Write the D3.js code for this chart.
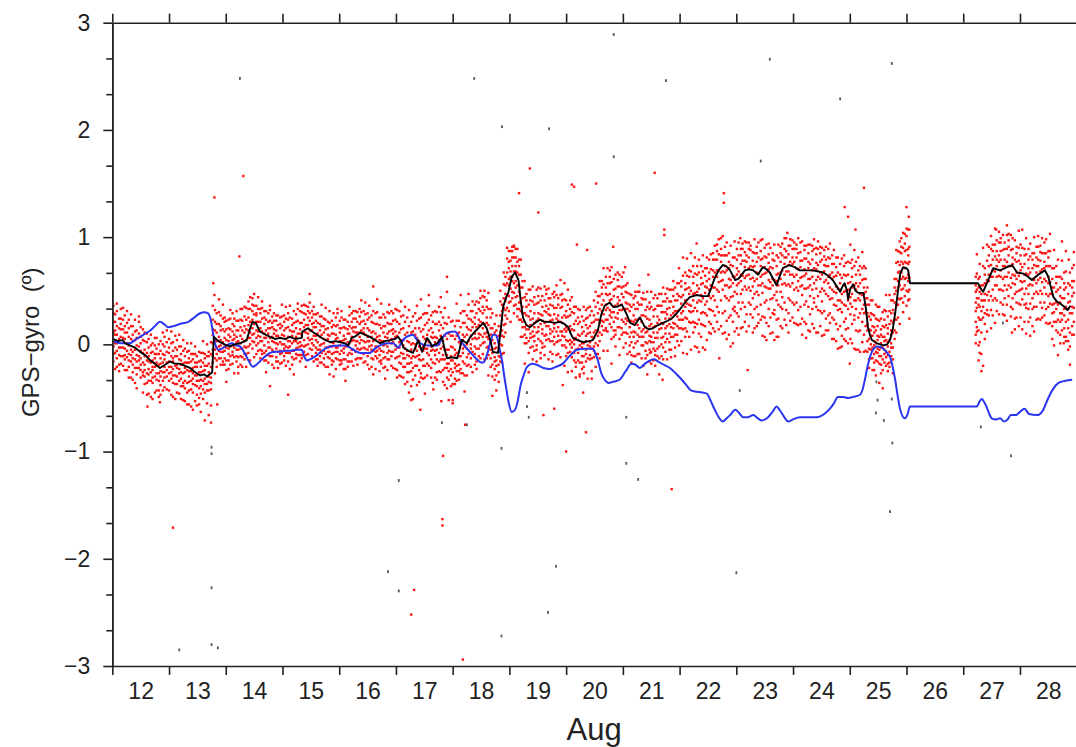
<!DOCTYPE html>
<html>
<head>
<meta charset="utf-8">
<script src="https://cdn.jsdelivr.net/npm/d3@7"></script>
<style>
  html, body { margin: 0; padding: 0; background: #fff; }
  svg { display: block; font-family: "Liberation Sans", Arial, sans-serif; }
</style>
</head>
<body>
<svg id="chart" width="1076" height="747"></svg>
<script>
// ---- axis values ----
const dayLabels = [12, 13, 14, 15, 16, 17, 18, 19, 20, 21, 22, 23, 24, 25, 26, 27, 28];
const dayBounds = [12, 13, 14, 15, 16, 17, 18, 19, 20, 21, 22, 23, 24, 25, 26, 27, 28, 29];
const yMajor = [-3, -2, -1, 0, 1, 2, 3];

// ---- GPS minus gyro heading samples: [day of August, values in hundredths of a degree...] ----
const cloudAug12 = [
  [12.02, 36, 21, 11, 4, -2, -9, -16, 29], [12.08, 31, 17, 9, 1, -6, -13, 38, -21],
  [12.15, 24, 14, 7, -3, -11, 19, -18, 33], [12.22, 11, 5, -4, -10, 17, -14, -24, 27],
  [12.29, 15, 7, -1, -9, -15, -21, 23, -31], [12.36, 9, 3, -7, -13, -19, -26, 17, -33],
  [12.43, 6, -1, -10, -16, -22, 13, -28, -41], [12.50, 7, 1, -6, -13, -19, -24, -31, 16],
  [12.57, 3, -5, -11, -19, -24, -30, 11, -37], [12.64, -3, -11, -16, -23, -28, 5, -34, -46],
  [12.71, -7, -15, -21, -24, -31, 1, -36, -51], [12.78, -4, -9, -17, -20, -27, 6, -33, -43],
  [12.85, -6, -13, -18, -25, -30, 3, -38, -47], [12.92, -2, -10, -14, -21, -26, 7, -31, -40],
  [12.05, 9, 1, 13, -8, 21, -23, 28], [12.12, -3, 5, -10, 15, -19, 24, -25],
  [12.19, 6, -3, 14, -11, 23, -20, 34], [12.26, 1, 11, -6, 20, -12, 31, -24],
  [12.33, -5, 5, -10, 17, -16, 28, -31], [12.40, -5, 4, -14, 12, -22, 23, -36],
  [12.47, -2, -11, 10, -15, 21, -22, 26], [12.54, -8, -17, 4, -26, 14, -29, -45],
  [12.61, -15, -8, -27, 2, -36, 10, -47], [12.68, -8, -17, -1, -26, 9, -34, -49],
  [12.75, -13, -21, -9, -30, -1, -45, 6], [12.82, -27, -19, -34, -9, -43, 0, -49],
  [12.89, -17, -26, -9, -34, 0, -43, 11], [12.96, -17, -7, -24, 2, -30, 13, -42]
];
const cloudAug13 = [
  [13.00, -3, -8, -16, -21, -27, 5, -34, -43], [13.07, -6, -13, -16, -23, -29, 2, -36, -49],
  [13.14, -5, -11, -19, -22, -30, 4, -37, -45], [13.21, -9, -15, -19, -26, -32, -2, -39, -51],
  [13.28, -11, -17, -22, -26, -34, -4, -41, -53], [13.35, -13, -17, -25, -30, -35, -6, -43, -56],
  [13.42, -14, -22, -27, -32, -37, -9, -45, -61], [13.49, -17, -21, -29, -34, -39, -11, -47, -57],
  [13.56, -15, -21, -26, -33, -39, -8, -46, -63], [13.63, -13, -20, -24, -32, -37, -45, -9, -71],
  [13.70, -11, -18, -26, -30, -35, -43, -7, -66], [13.77, 14, 9, 1, -5, -11, 23, -17, 36],
  [13.84, 11, 3, -3, -9, 19, -15, 29, -21], [13.91, 13, 4, -1, -7, 17, -13, 27, -19],
  [13.04, -21, -11, -26, 1, -32, 12, -47], [13.11, -20, -11, -29, -3, -37, 8, -51],
  [13.18, -14, -23, -2, -27, 9, -34, -46], [13.25, -18, -27, -6, -36, 4, -39, -52],
  [13.32, -24, -17, -36, -7, -45, 1, -56], [13.39, -16, -25, -9, -34, 1, -42, -58],
  [13.46, -21, -29, -17, -38, -9, -53, -2], [13.53, -34, -26, -41, -16, -50, -7, -56],
  [13.60, -25, -34, -17, -42, -8, -51, 3], [13.67, -30, -20, -37, -11, -43, 0, -55],
  [13.74, -31, -21, -36, -9, -42, 2, -57], [13.81, 4, 13, -5, 21, -13, 32, -27],
  [13.88, 7, -2, 19, -6, 30, -13, 42], [13.95, 2, -7, 14, -16, 24, -19, 37]
];
const cloudAug14 = [
  [13.98, 12, 6, -2, -6, -13, 21, -19, 25], [14.05, 9, 3, -4, -9, 15, -15, 23, -23],
  [14.12, 12, 4, -1, -7, -10, 19, -18, 29], [14.19, 13, 7, 2, -5, -11, 22, -16, 31],
  [14.26, 16, 8, 1, -4, 23, -11, 33, -19], [14.33, 17, 11, 3, -2, 26, -9, 35, -14],
  [14.40, 25, 18, 13, 6, 33, -2, 40, -8], [14.47, 31, 23, 15, 9, 37, 3, 43, -4],
  [14.54, 29, 21, 13, 6, 36, -1, 27, -9], [14.61, 21, 15, 7, 3, 29, -5, 33, -13],
  [14.68, 19, 10, 6, -1, 25, -8, 31, -15], [14.75, 15, 10, 2, -3, 21, -10, 29, -17],
  [14.82, 16, 7, 3, -5, 20, -11, 26, -19], [14.89, 13, 8, 1, -4, 22, -12, 27, -16],
  [14.96, 15, 6, 2, -6, 19, -9, 25, -18],
  [14.01, -3, 4, -15, 14, -24, 22, -35], [14.08, 7, -2, 14, -11, 24, -19, 32],
  [14.15, 5, -3, 9, -12, 17, -27, 24], [14.22, -5, 3, -12, 13, -21, 22, -27],
  [14.29, 5, -4, 13, -12, 22, -21, 33], [14.36, 4, 14, -3, 23, -9, 34, -21],
  [14.43, 11, 21, 6, 33, 0, 44, -15], [14.50, 19, 28, 10, 36, 2, 47, -12],
  [14.57, 21, 12, 33, 8, 44, 1, -6], [14.64, 12, 3, 24, -6, 34, -9, 40],
  [14.71, 6, 13, -6, 23, -15, 31, -26], [14.78, 15, 6, 22, -3, 32, -11, 36],
  [14.85, 10, 2, 14, -7, 22, -22, 29], [14.92, 0, 8, -7, 18, -16, 27, -22],
  [14.99, 9, 0, 17, -8, 26, -17, 37]
];
const cloudAug15 = [
  [15.03, 13, 8, 0, -4, 21, -11, 27, -15], [15.10, 16, 7, 3, -3, 23, -8, 29, -16],
  [15.17, 12, 8, 1, -6, 18, -12, 24, -19], [15.24, 15, 7, 3, -4, 21, -9, 28, -13],
  [15.31, 14, 10, 2, -2, 20, -10, 31, -16], [15.38, 23, 16, 12, 4, 29, -2, 37, -7],
  [15.45, 25, 18, 10, 6, 31, 0, 35, -9], [15.52, 19, 13, 5, 1, 25, -5, 31, -11],
  [15.59, 16, 8, 4, -3, 22, -8, 28, -14], [15.66, 13, 7, -1, -5, 19, -11, 26, -17],
  [15.73, 11, 5, 1, -6, 17, -13, 24, -19], [15.80, 9, 5, -3, -7, 15, -12, 21, -21],
  [15.87, 10, 2, -2, -9, 16, -15, 22, -19], [15.94, 9, 5, -3, -7, 17, -13, 25, -23],
  [15.06, 5, 15, -2, 24, -8, 35, -20], [15.13, 3, 13, -2, 25, -8, 36, -23],
  [15.20, 3, 12, -6, 20, -14, 31, -28], [15.27, 10, 1, 22, -3, 33, -10, 38],
  [15.34, 8, -1, 20, -10, 30, -13, 36], [15.41, 11, 18, -1, 28, -10, 36, -21],
  [15.48, 22, 13, 29, 4, 39, -4, 47], [15.55, 16, 8, 20, -1, 28, -16, 35],
  [15.62, 2, 10, -5, 20, -14, 29, -20], [15.69, 9, 0, 17, -8, 26, -17, 37],
  [15.76, 4, 14, -3, 23, -9, 34, -21], [15.83, -2, 8, -7, 20, -13, 31, -28],
  [15.90, 1, 10, -8, 18, -16, 29, -30], [15.97, 6, -3, 18, -7, 29, -14, 33]
];
const cloudAug16 = [
  [16.01, 11, 3, -1, -9, 15, -15, 22, -19], [16.08, 8, 4, -4, -8, 16, -14, 23, -23],
  [16.15, 10, 2, -2, -10, 14, -16, 21, -21], [16.22, 15, 7, 3, -5, 21, -9, 29, -16],
  [16.29, 16, 11, 3, -1, 24, -7, 31, -14], [16.36, 19, 11, 7, 1, 26, -5, 33, -13],
  [16.43, 15, 11, 3, -3, 22, -9, 31, -17], [16.50, 15, 7, 3, -5, 23, -11, 29, -19],
  [16.57, 11, 7, -1, -5, 21, -13, 27, -21], [16.64, 10, 5, -2, -7, 19, -11, 29, -23],
  [16.71, 8, 4, -4, -10, 18, -16, 25, -25], [16.78, 11, 3, -1, -7, 17, -13, 28, -22],
  [16.85, 10, 6, -2, -8, 20, -14, 30, -24], [16.92, 13, 5, 1, -7, 19, -11, 31, -20],
  [16.04, 3, -6, 15, -15, 25, -18, 31], [16.11, -2, 5, -14, 15, -23, 23, -34],
  [16.18, 10, 1, 17, -8, 27, -16, 35], [16.25, 12, 4, 16, -5, 24, -20, 31],
  [16.32, 3, 11, -4, 21, -13, 30, -19], [16.39, 13, 4, 21, -4, 30, -13, 41],
  [16.46, 9, 19, 2, 28, -4, 39, -16], [16.53, 3, 13, -2, 25, -8, 36, -23],
  [16.60, 3, 12, -6, 20, -14, 31, -28], [16.67, 7, -2, 19, -6, 30, -13, 42],
  [16.74, 3, -6, 15, -15, 25, -18, 38], [16.81, 0, 7, -12, 17, -21, 25, -32],
  [16.88, 12, 3, 19, -6, 29, -14, 37], [16.95, 10, 2, 14, -7, 22, -22, 29]
];
const cloudAug17 = [
  [16.99, 12, 7, -1, -5, 23, -13, 33, -23], [17.06, 11, 2, -3, -11, 19, -17, 31, -29],
  [17.13, 4, -1, -9, -13, 15, -21, 27, -31], [17.20, 3, -6, -10, -18, 11, -26, 25, -35],
  [17.27, 0, -5, -13, -17, 11, -25, 21, -39], [17.34, 9, 0, -4, -12, 15, -20, 29, -29],
  [17.41, 3, -2, -10, -14, 15, -24, 24, -35], [17.48, 7, -2, -6, -14, 14, -20, 28, -32],
  [17.55, 9, 4, -4, -8, 20, -18, 29, -29], [17.62, 7, -2, -6, -14, 15, -22, 27, -31],
  [17.69, 7, 2, -6, -10, 19, -18, 31, -31], [17.76, 13, 4, 0, -8, 21, -16, 35, -25],
  [17.83, 3, -2, -10, -14, 15, -24, 25, -35], [17.90, -5, -10, -18, -22, 5, -31, 19, -41],
  [17.97, -2, -11, -15, -23, 8, -29, 21, -39],
  [17.02, -3, 8, -12, 21, -24, 32, -31], [17.09, 4, -8, 14, -18, 26, -30, 40],
  [17.16, -4, 9, -13, 21, -21, 35, -37], [17.23, -11, 2, -18, 17, -26, 32, -45],
  [17.30, -11, 1, -22, 12, -33, 26, -51], [17.37, 6, -6, 22, -11, 36, -20, -38],
  [17.44, -4, -15, 12, -27, 25, -31, 42], [17.51, -4, 5, -20, 18, -31, 29, -46],
  [17.58, 13, 2, 23, -10, 36, -20, 46], [17.65, 6, -5, 11, -17, 21, -36, 30],
  [17.72, -5, 6, -14, 19, -26, 30, -33], [17.79, 8, -4, 18, -14, 30, -26, 44],
  [17.86, -5, 8, -14, 20, -22, 34, -38], [17.93, -18, -5, -25, 10, -33, 25, -52]
];
const cloudAug18 = [
  [18.04, -5, -10, -18, -22, 5, -32, 17, -37], [18.11, 2, -7, -11, -19, 11, -25, 22, -33],
  [18.18, 9, 4, -4, -8, 20, -16, 31, -27], [18.25, 9, 0, -4, -12, 16, -20, 27, -29],
  [18.32, 13, 8, 0, -4, 23, -13, 31, -21], [18.39, 19, 10, 6, -2, 25, -9, 37, -19],
  [18.46, 23, 18, 10, 6, 33, -4, 39, -11], [18.53, 29, 20, 15, 7, 35, 1, 45, -9],
  [18.60, 25, 20, 11, 7, 35, -3, 41, -13], [18.67, 15, 9, 2, -5, 25, -13, 33, -21],
  [18.74, 1, -4, -12, -16, 11, -23, 19, -33], [18.81, 3, -7, -11, -19, 8, -26, 17, -35],
  [18.87, 23, 13, 8, -1, 31, -9, 37, -17], [18.93, 47, 41, 32, 27, 55, 19, 63, 11],
  [18.00, -15, -3, -26, 8, -37, 22, -55], [18.07, -8, -20, 8, -25, 22, -34, 38],
  [18.14, 0, -11, 16, -23, 29, -27, 46], [18.21, -2, 7, -18, 20, -29, 31, -44],
  [18.28, 14, 3, 24, -9, 37, -19, 47], [18.35, 16, 5, 21, -7, 31, -26, 40],
  [18.42, 5, 16, -4, 29, -16, 40, -23], [18.49, 21, 9, 31, -1, 43, -13, 50],
  [18.56, 19, 32, 10, 44, 2, 50, -14], [18.63, 5, 18, -2, 33, -10, 48, -29],
  [18.70, -8, 4, -19, 15, -30, 29, -48], [18.77, -3, -15, 13, -20, 27, -29, -43],
  [18.84, 11, 0, 27, -12, 40, -16, 50], [18.90, 34, 43, 18, 56, 7, 67, -8],
  [18.96, 57, 46, 67, 34, 80, 24, 90]
];
const cloudAug19 = [
  [18.99, 61, 55, 45, 39, 71, 77, 31, 87], [19.05, 73, 63, 59, 49, 81, 87, 43, 91],
  [19.11, 73, 68, 59, 53, 81, 89, 44, 37], [19.17, 65, 55, 49, 39, 73, 79, 33, 23],
  [19.23, 35, 29, 21, 16, 43, 53, 7, 59], [19.30, 27, 18, 14, 6, 35, 41, 1, 47],
  [19.37, 23, 18, 10, 6, 31, 41, -3, 51], [19.44, 29, 20, 16, 8, 37, 44, 3, -6],
  [19.51, 29, 24, 16, 12, 39, 45, 5, 53], [19.58, 27, 22, 14, 10, 35, 45, 1, -3],
  [19.65, 30, 21, 17, 9, 36, 47, 4, 51], [19.72, 27, 22, 14, 10, 37, 43, 3, -7],
  [19.79, 28, 19, 15, 7, 34, 44, 0, 49], [19.86, 27, 22, 16, 8, 37, 43, 3, -9],
  [19.93, 25, 20, 12, 8, 35, 41, -1, 47],
  [19.02, 63, 52, 68, 40, 78, 21, 87], [19.08, 57, 68, 48, 81, 36, 92, 29],
  [19.14, 67, 55, 77, 45, 89, 33, 26], [19.20, 40, 53, 31, 65, 23, 79, 7],
  [19.27, 16, 29, 9, 44, 1, 59, -18], [19.34, 14, 26, 3, 37, -8, 51, -26],
  [19.41, 24, 12, 40, 7, 54, -2, -14], [19.48, 22, 11, 38, -1, 51, -5, -16],
  [19.55, 19, 28, 3, 41, -8, 52, -13], [19.62, 31, 20, 41, 8, 54, -2, -10],
  [19.69, 28, 17, 33, 5, 43, -14, 52], [19.76, 12, 23, 3, 36, -9, 47, -16],
  [19.83, 24, 12, 34, 2, 46, -10, 55], [19.90, 21, 34, 12, 46, 4, 60, -12],
  [19.97, 14, 27, 7, 42, -1, 57, -20]
];
const cloudAug20 = [
  [20.00, 25, 16, 12, 4, 31, 41, -3, -11], [20.07, 17, 12, 4, 0, 27, 33, -7, 41],
  [20.14, 13, 4, 0, -8, 19, 29, -15, 35], [20.21, 9, 4, -4, -8, 19, 25, -15, 33],
  [20.28, 10, 1, -3, -11, 16, 26, -17, -23], [20.35, 8, 3, -5, -9, 18, 24, -16, 32],
  [20.42, 11, 2, -2, -10, 17, 27, -14, 35], [20.49, 11, 6, -2, -6, 21, 27, -12, 41],
  [20.56, 23, 13, 8, -1, 29, 39, -9, 45], [20.63, 37, 31, 22, 17, 47, 53, 9, 59],
  [20.70, 47, 37, 32, 23, 53, 63, 15, 13], [20.77, 47, 41, 32, 27, 57, 63, 19, 69],
  [20.84, 45, 35, 30, 21, 51, 61, 13, 7], [20.91, 44, 38, 29, 24, 54, 60, 16, 67],
  [20.98, 47, 37, 32, 23, 53, 63, 15, 9],
  [20.03, 14, 26, 3, 37, -8, 51, -26], [20.10, 14, 2, 30, -3, 44, -12, -25],
  [20.17, 6, -5, 22, -17, 35, -21, -31], [20.24, -1, 8, -17, 21, -28, 32, -30],
  [20.31, 12, 1, 22, -11, 35, -21, -27], [20.38, 10, -1, 15, -13, 25, -32, 34],
  [20.45, -4, 7, -13, 20, -25, 31, -32], [20.52, 13, 1, 23, -9, 35, -21, 49],
  [20.59, 20, 33, 11, 45, 3, 59, -13], [20.66, 28, 41, 21, 56, 13, 71, -6],
  [20.73, 34, 46, 23, 57, 12, 71, -6], [20.80, 42, 30, 58, 25, 72, 16, 5],
  [20.87, 36, 25, 52, 13, 65, 9, -2], [20.94, 32, 41, 16, 54, 5, 65, -10]
];
const cloudAug21 = [
  [21.05, 39, 33, 24, 19, 49, 55, 11, 1], [21.12, 31, 21, 16, 7, 37, 47, -1, -7],
  [21.19, 27, 21, 12, 7, 37, 43, -3, -11], [21.26, 33, 23, 18, 9, 39, 49, 3, -9],
  [21.33, 27, 21, 12, 7, 37, 43, -1, -13], [21.40, 26, 16, 11, 2, 32, 42, -6, -13],
  [21.47, 23, 17, 8, 3, 33, 39, -5, -16], [21.54, 26, 16, 11, 2, 32, 43, -4, -15],
  [21.61, 26, 20, 11, 6, 36, 43, -4, -11], [21.68, 30, 20, 15, 6, 36, 47, 0, -11],
  [21.75, 30, 24, 15, 10, 40, 47, 2, -7], [21.82, 34, 24, 19, 10, 40, 51, 2, -5],
  [21.89, 35, 29, 20, 15, 45, 51, 7, 59], [21.96, 41, 31, 26, 17, 47, 57, 9, 3],
  [21.01, 44, 33, 54, 21, 67, 11, -3], [21.08, 33, 22, 38, 10, 48, -9, 57],
  [21.15, 11, 22, 2, 35, -10, 46, -17], [21.22, 23, 11, 33, 1, 45, -11, 49],
  [21.29, 24, 37, 15, 49, 7, 55, -9], [21.36, 14, 27, 7, 42, -1, 48, -20],
  [21.43, 12, 24, 1, 35, -10, 49, -28], [21.50, 19, 7, 35, 2, 49, -7, -18],
  [21.57, 17, 6, 33, -6, 46, -10, -20], [21.64, 14, 23, -2, 36, -13, 47, -28],
  [21.71, 30, 19, 40, 7, 53, -3, -14], [21.78, 28, 17, 33, 5, 43, -14, 52],
  [21.85, 16, 27, 7, 40, -5, 51, -12], [21.92, 31, 19, 41, 9, 53, -3, -11],
  [21.99, 32, 45, 23, 57, 15, 71, -1]
];
const cloudAug22 = [
  [22.03, 44, 38, 29, 23, 54, 59, 15, 3], [22.10, 51, 41, 35, 25, 57, 67, 15, 7],
  [22.17, 53, 47, 37, 31, 63, 69, 21, 7], [22.24, 57, 47, 41, 31, 63, 73, 21, 11],
  [22.31, 55, 49, 39, 31, 65, 73, 19, -3], [22.38, 56, 46, 40, 29, 62, 73, 19, 7],
  [22.45, 54, 48, 37, 29, 64, 71, 17, -5], [22.52, 61, 51, 45, 33, 67, 79, 21, 11],
  [22.59, 69, 63, 53, 45, 79, 85, 31, 15], [22.66, 79, 69, 63, 51, 87, 93, 35, 21],
  [22.73, 83, 77, 67, 59, 89, 99, 41, 17], [22.80, 83, 73, 67, 55, 91, 45, 31, 11],
  [22.87, 77, 71, 61, 53, 85, 41, 25, 9], [22.94, 73, 63, 57, 45, 81, 33, 21, 1],
  [22.06, 31, 46, 23, 64, 14, 81, -8], [22.13, 38, 52, 24, 64, 12, 80, -9],
  [22.20, 50, 36, 68, 30, 85, 20, -5], [22.27, 48, 34, 66, 20, 81, 16, -2],
  [22.34, 41, 52, 23, 67, 10, 79, -7], [22.41, 57, 43, 68, 30, 83, 18, -3],
  [22.48, 53, 40, 59, 27, 71, 4, 81], [22.55, 43, 55, 32, 70, 19, 84, 10],
  [22.62, 67, 53, 79, 41, 92, 27, 12], [22.69, 69, 84, 58, 98, 49, 30, 14],
  [22.76, 68, 83, 60, 101, 51, 29, 10], [22.83, 69, 83, 55, 95, 43, 22, 5],
  [22.90, 74, 60, 92, 54, 27, 44, -2], [22.97, 63, 49, 81, 35, 96, 31, 12]
];
const cloudAug23 = [
  [23.01, 71, 65, 55, 47, 79, 89, 29, 15], [23.08, 75, 65, 59, 47, 83, 89, 33, 15],
  [23.15, 78, 72, 62, 54, 86, 96, 35, 21], [23.22, 81, 71, 65, 53, 89, 95, 39, 17],
  [23.29, 78, 72, 62, 54, 86, 43, 25, 11], [23.36, 77, 67, 61, 49, 85, 91, 35, 17],
  [23.43, 79, 73, 63, 55, 87, 97, 37, 23], [23.50, 82, 72, 66, 54, 90, 39, 25, 7],
  [23.57, 76, 70, 60, 52, 84, 94, 33, 17], [23.64, 71, 61, 55, 43, 79, 85, 29, 11],
  [23.71, 65, 59, 49, 41, 73, 83, 23, 7], [23.78, 77, 67, 61, 49, 85, 91, 35, 17],
  [23.85, 81, 75, 65, 57, 89, 99, 39, 23], [23.92, 84, 74, 68, 56, 92, 43, 29, 11],
  [23.04, 57, 68, 39, 83, 26, 95, 9], [23.11, 78, 64, 89, 51, 94, 39, 16],
  [23.18, 77, 64, 83, 51, 95, 28, 12], [23.25, 61, 73, 50, 88, 37, 92, 28],
  [23.32, 73, 59, 85, 47, 98, 33, 15], [23.39, 66, 81, 55, 95, 46, 20, 28],
  [23.46, 65, 80, 57, 98, 48, 26, 8], [23.53, 67, 81, 53, 93, 41, 20, 4],
  [23.60, 72, 58, 90, 52, 25, 42, 10], [23.67, 60, 46, 78, 32, 93, 28, 4],
  [23.74, 55, 66, 37, 81, 24, 93, 7], [23.81, 83, 69, 94, 56, 33, 44, 15],
  [23.88, 81, 68, 87, 55, 99, 32, 18], [23.95, 65, 77, 54, 92, 41, 98, 22]
];
const cloudAug24 = [
  [23.99, 81, 75, 65, 57, 89, 97, 39, 25], [24.06, 81, 71, 65, 53, 89, 93, 39, 19],
  [24.13, 78, 72, 62, 54, 86, 95, 35, 19], [24.20, 80, 70, 64, 52, 88, 92, 37, 21],
  [24.27, 77, 71, 61, 53, 85, 93, 35, 13], [24.34, 79, 69, 63, 51, 87, 92, 33, 19],
  [24.41, 76, 70, 60, 52, 84, 90, 35, 11], [24.48, 77, 67, 61, 49, 85, 91, 31, 17],
  [24.55, 74, 68, 58, 50, 82, 88, 31, 9], [24.62, 73, 63, 57, 45, 81, 89, 27, 13],
  [24.69, 67, 61, 51, 43, 75, 83, 25, 5], [24.76, 64, 54, 48, 36, 72, 81, 19, 3],
  [24.83, 57, 51, 41, 33, 65, 75, 17, -3], [24.90, 65, 55, 49, 37, 73, 83, 21, 5],
  [24.97, 57, 51, 41, 33, 65, 77, 15, 1],
  [24.02, 77, 63, 89, 51, 95, 37, 20], [24.09, 70, 85, 59, 99, 50, 32, 18],
  [24.16, 63, 78, 55, 96, 46, 24, 9], [24.23, 66, 80, 52, 92, 40, 19, 6],
  [24.30, 75, 61, 93, 55, 28, 45, 12], [24.37, 71, 57, 89, 43, 98, 39, 15],
  [24.44, 63, 74, 45, 89, 32, 96, 11], [24.51, 79, 65, 90, 52, 29, 40, 8],
  [24.58, 73, 60, 79, 47, 91, 24, 13], [24.65, 53, 65, 42, 80, 29, 94, 20],
  [24.72, 63, 49, 75, 37, 88, 23, 5], [24.79, 52, 67, 41, 81, 32, 14, -4],
  [24.86, 47, 62, 39, 80, 30, -2, 8], [24.93, 50, 64, 36, 76, 24, 14, 3]
];
const cloudAug25 = [
  [25.04, 63, 53, 47, 35, 71, 79, 19, 1], [25.11, 57, 51, 41, 33, 65, 77, 13, -5],
  [25.18, 57, 47, 41, 29, 65, 73, 13, -7], [25.25, 53, 47, 37, 29, 61, 73, 9, -7],
  [25.31, 29, 19, 13, 3, 37, 43, -7, 53], [25.37, 13, 8, 0, -5, 23, 29, -13, 41],
  [25.43, 11, 3, -1, -9, 16, 27, -17, -24], [25.49, 8, 4, -4, -8, 17, 23, -16, 35],
  [25.55, 9, 1, -3, -11, 14, 24, -19, -27], [25.61, 7, 3, -5, -9, 16, 23, -17, 32],
  [25.67, 10, 2, -2, -10, 15, 26, -18, -25], [25.73, 13, 9, 1, -3, 22, 29, -11, 41],
  [25.79, 39, 29, 23, 13, 47, 53, 5, 61], [25.85, 59, 53, 43, 37, 67, 77, 25, 87],
  [25.91, 77, 67, 61, 51, 85, 91, 43, 99], [25.97, 77, 71, 61, 55, 87, 94, 45, 103],
  [26.03, 75, 65, 59, 49, 83, 89, 41, 107],
  [25.01, 58, 44, 76, 38, 93, 28, 5], [25.08, 55, 41, 73, 27, 88, 23, -4],
  [25.15, 43, 54, 25, 69, 12, 81, -5], [25.22, 60, 46, 71, 33, 86, 21, 2],
  [25.28, 43, 30, 49, 17, 61, -6, 71], [25.34, 5, 14, -4, 26, -14, 37, -22],
  [25.40, 8, -3, 17, -13, 28, -24, 41], [25.46, 1, 13, -7, 24, -15, 37, -29],
  [25.52, -5, 7, -11, 22, -18, 35, -36], [25.58, -3, 7, -14, 17, -24, 30, -41],
  [25.64, 4, -7, 18, -12, 31, -20, 46], [25.70, 4, -7, 19, -17, 31, -21, 46],
  [25.76, 11, 20, -3, 32, -14, 41, -27], [25.82, 50, 36, 61, 23, 76, 11, 88],
  [25.88, 68, 55, 74, 42, 86, 19, 96], [25.94, 63, 75, 52, 90, 39, 104, 30],
  [26.00, 76, 62, 88, 50, 101, 36, 108], [26.05, 62, 77, 51, 91, 42, 107, 24]
];
const cloudAug27 = [
  [27.22, 55, 49, 39, 31, 63, 21, 9, 1], [27.27, 53, 43, 37, 25, 61, 13, -1, -15],
  [27.32, 47, 41, 31, 23, 55, 11, -9, -25], [27.38, 57, 47, 41, 29, 65, 71, 19, 5],
  [27.45, 65, 59, 49, 41, 73, 83, 27, 91], [27.52, 79, 69, 63, 51, 87, 93, 41, 27],
  [27.59, 79, 73, 63, 55, 87, 97, 41, 31], [27.66, 79, 69, 63, 51, 87, 95, 39, 99],
  [27.73, 79, 73, 63, 55, 89, 95, 43, 27], [27.80, 83, 73, 67, 55, 91, 97, 45, 103],
  [27.87, 81, 75, 65, 57, 89, 99, 43, 33], [27.94, 77, 67, 61, 49, 85, 91, 39, 25],
  [27.24, 51, 66, 43, 84, 34, 16, 12], [27.29, 49, 63, 35, 75, 23, -8, 2],
  [27.35, 55, 41, 73, 35, 90, 25, -20], [27.42, 60, 46, 78, 32, 93, 28, 12],
  [27.49, 63, 74, 45, 89, 32, 101, 15], [27.56, 82, 68, 93, 55, 108, 43, 20],
  [27.63, 77, 64, 83, 51, 95, 28, 105], [27.70, 61, 73, 50, 88, 37, 102, 28],
  [27.77, 77, 63, 89, 51, 102, 37, 22], [27.84, 73, 88, 62, 102, 53, 35, 26],
  [27.91, 64, 79, 56, 97, 47, 24, 14], [27.98, 64, 78, 50, 90, 38, 17, 106]
];
const cloudAug28 = [
  [28.01, 75, 69, 59, 51, 83, 93, 37, 25], [28.08, 75, 65, 59, 47, 83, 89, 37, 21],
  [28.15, 71, 65, 55, 47, 79, 89, 33, 21], [28.22, 71, 61, 55, 43, 79, 85, 33, 17],
  [28.29, 73, 67, 57, 49, 81, 91, 35, 23], [28.36, 78, 68, 62, 50, 86, 92, 39, 23],
  [28.43, 77, 71, 61, 53, 85, 95, 39, 27], [28.50, 73, 63, 57, 45, 81, 87, 35, 19],
  [28.57, 53, 47, 37, 29, 61, 71, 17, 5], [28.64, 49, 39, 33, 21, 57, 63, 13, 73],
  [28.71, 45, 39, 29, 21, 53, 63, 9, 1], [28.78, 43, 33, 27, 15, 51, 57, 7, 67],
  [28.85, 39, 33, 23, 15, 47, 57, 3, -5], [28.92, 45, 35, 29, 17, 53, 59, 9, 71],
  [28.04, 72, 58, 90, 52, 107, 42, 14], [28.11, 66, 52, 84, 38, 99, 34, 10],
  [28.18, 56, 67, 38, 82, 25, 94, 8], [28.25, 74, 60, 85, 47, 100, 35, 12],
  [28.32, 73, 60, 79, 47, 91, 24, 101], [28.39, 58, 70, 47, 85, 34, 99, 25],
  [28.46, 73, 59, 85, 47, 98, 33, 20], [28.53, 58, 73, 47, 87, 38, 103, 20],
  [28.60, 38, 53, 30, 71, 21, 88, -1], [28.67, 37, 51, 23, 63, 11, 79, -10],
  [28.74, 43, 29, 61, 23, 78, 13, 96], [28.81, 35, 21, 53, 7, 68, 3, 87],
  [28.88, 29, 40, 11, 55, -2, 67, -19], [28.95, 48, 34, 59, 21, 74, 9, 86]
];

// isolated accepted samples away from the main band [day, degrees]
const strayRed = [
  [13.78, 0.57], [13.80, 0.46], [13.80, 1.37], [14.31, 1.57], [14.24, 0.82],
  [12.62, -0.58], [12.84, -0.54], [13.74, -0.73], [13.85, -0.56], [13.07, -1.71],
  [14.78, -0.39], [15.10, -0.47], [16.60, 0.54], [17.90, 0.63], [17.90, 0.49],
  [17.27, -0.52], [17.43, -0.61], [17.66, -0.42], [17.80, -0.53], [18.00, -0.52],
  [18.22, -0.75], [17.27, -2.52], [17.32, -2.29], [17.83, -1.04], [17.82, -1.63],
  [17.82, -1.69], [18.18, -2.94], [19.08, 0.91], [19.17, 1.41], [19.36, 1.64],
  [19.51, 1.23], [20.14, 1.47], [20.10, 1.49], [20.53, 1.50], [20.19, 0.93],
  [20.37, 0.88], [20.83, 0.91], [21.04, 0.72], [21.45, 0.65], [21.56, 1.60],
  [21.73, 1.07], [21.73, 1.02], [22.30, 0.94], [22.78, 1.41], [22.78, 1.32],
  [23.07, 0.99], [23.90, 1.04], [24.91, 1.28], [24.97, 1.19], [25.10, 1.07],
  [25.25, 1.46], [26.00, 1.28], [26.04, 1.19], [27.58, 1.07], [27.77, 1.11],
  [28.86, 0.79], [28.77, 0.01], [27.86, 0.11], [19.60, -0.66], [19.79, -0.60],
  [19.94, -0.38], [20.30, -0.45], [20.00, -1.00], [20.35, -0.82], [20.80, -0.18],
  [21.48, -0.08], [21.70, -0.33], [21.86, -1.35], [22.70, -0.13], [23.20, -0.24],
  [25.00, -0.18]
];

// flagged samples (rejected by the quality check) [day, degrees]
const flagged = [
  [14.25, 2.48], [18.38, 2.48], [18.87, 2.03], [19.70, 2.01], [20.84, 2.89],
  [23.59, 2.66], [21.76, 2.46], [25.74, 2.62], [24.83, 2.29], [20.84, 1.75],
  [23.43, 1.71], [13.75, -0.96], [13.75, -1.02], [13.75, -2.27], [13.18, -2.85],
  [13.75, -2.80], [13.86, -2.83], [17.05, -1.27], [16.86, -2.12], [17.05, -2.30],
  [18.86, -0.97], [18.86, -2.72], [19.82, -2.07], [19.68, -2.50], [21.06, -0.68],
  [21.06, -1.11], [21.27, -1.26], [23.00, -2.13], [23.06, -0.43], [25.75, -0.92],
  [25.71, -1.56], [27.31, -0.77], [27.84, -1.04], [19.31, -0.45], [19.31, -0.58],
  [19.34, -0.68], [17.81, -0.73], [18.25, -0.75], [25.47, -0.35], [25.74, -0.51],
  [25.46, -0.64], [25.60, -0.71], [25.49, -0.52], [27.70, 0.20]
];

// running mean of GPS-gyro
const meanDays = [
  12.02, 12.10, 12.18, 12.23, 12.31, 12.40, 12.49, 12.58, 12.67, 12.75, 12.84, 12.93, 13.02, 13.10,
  13.19, 13.28, 13.37, 13.46, 13.55, 13.62, 13.67, 13.76, 13.79, 13.85, 13.90, 13.98, 14.07, 14.16,
  14.25, 14.37, 14.43, 14.47, 14.53, 14.60, 14.70, 14.78, 14.87, 14.95, 15.05, 15.13, 15.22, 15.34,
  15.35, 15.45, 15.52, 15.61, 15.72, 15.84, 15.93, 16.02, 16.10, 16.16, 16.22, 16.30, 16.37, 16.45,
  16.54, 16.63, 16.72, 16.81, 16.90, 16.98, 17.04, 17.10, 17.13, 17.22, 17.30, 17.35, 17.39, 17.43,
  17.46, 17.51, 17.55, 17.60, 17.64, 17.69, 17.73, 17.81, 17.86, 17.90, 17.99, 18.08, 18.12, 18.16,
  18.25, 18.30, 18.36, 18.45, 18.54, 18.60, 18.63, 18.68, 18.71, 18.80, 18.85, 18.89, 18.95, 18.98,
  19.04, 19.10, 19.16, 19.20, 19.24, 19.30, 19.36, 19.45, 19.54, 19.62, 19.71, 19.80, 19.89, 19.97,
  20.04, 20.08, 20.12, 20.20, 20.30, 20.40, 20.47, 20.53, 20.56, 20.62, 20.68, 20.77, 20.83, 20.89,
  20.98, 21.05, 21.13, 21.21, 21.26, 21.30, 21.35, 21.39, 21.46, 21.53, 21.62, 21.71, 21.79, 21.86,
  21.95, 22.04, 22.11, 22.18, 22.30, 22.40, 22.50, 22.56, 22.62, 22.70, 22.76, 22.82, 22.89, 22.98,
  23.03, 23.07, 23.15, 23.22, 23.30, 23.38, 23.43, 23.47, 23.53, 23.59, 23.65, 23.71, 23.76, 23.82,
  23.94, 24.03, 24.12, 24.24, 24.35, 24.45, 24.53, 24.62, 24.70, 24.76, 24.83, 24.88, 24.91, 24.95,
  24.97, 25.01, 25.06, 25.10, 25.15, 25.24, 25.28, 25.32, 25.36, 25.39, 25.48, 25.59, 25.66, 25.71,
  25.76, 25.80, 25.85, 25.89, 25.94, 26.00, 26.03, 26.06, 27.26, 27.31, 27.35, 27.40, 27.44, 27.53,
  27.65, 27.77, 27.86, 27.95, 28.06, 28.14, 28.21, 28.32, 28.44, 28.50, 28.55, 28.59, 28.65, 28.71,
  28.78, 28.84, 28.89
];
const meanValues = [
  0.05, 0.03, 0.04, 0.01, -0.01, -0.03, -0.07, -0.10, -0.15, -0.18, -0.22, -0.19, -0.16, -0.18,
  -0.18, -0.20, -0.22, -0.26, -0.29, -0.28, -0.30, -0.26, 0.07, 0.04, 0.02, 0.00, -0.02, 0.00,
  0.01, 0.04, 0.15, 0.21, 0.20, 0.12, 0.09, 0.07, 0.05, 0.06, 0.05, 0.07, 0.05, 0.06,
  0.12, 0.15, 0.12, 0.09, 0.05, 0.02, 0.03, 0.02, 0.01, -0.01, 0.06, 0.08, 0.11, 0.09,
  0.07, 0.04, 0.01, 0.03, 0.04, 0.05, 0.07, 0.02, -0.03, -0.06, -0.08, -0.02, 0.04, -0.02,
  -0.07, 0.00, 0.06, 0.02, -0.02, 0.00, 0.01, 0.07, -0.05, -0.13, -0.12, -0.13, -0.05, 0.04,
  0.01, 0.06, 0.10, 0.15, 0.20, 0.15, 0.10, 0.00, -0.07, -0.08, 0.15, 0.35, 0.45, 0.48,
  0.63, 0.67, 0.60, 0.40, 0.25, 0.18, 0.16, 0.20, 0.23, 0.21, 0.21, 0.20, 0.21, 0.19,
  0.16, 0.10, 0.06, 0.04, 0.02, 0.03, 0.04, 0.10, 0.13, 0.28, 0.36, 0.39, 0.35, 0.35,
  0.37, 0.30, 0.20, 0.18, 0.22, 0.25, 0.20, 0.16, 0.14, 0.15, 0.18, 0.20, 0.22, 0.24,
  0.29, 0.35, 0.40, 0.44, 0.46, 0.45, 0.45, 0.53, 0.62, 0.70, 0.74, 0.73, 0.69, 0.60,
  0.61, 0.63, 0.69, 0.70, 0.69, 0.65, 0.69, 0.72, 0.70, 0.67, 0.61, 0.55, 0.63, 0.71,
  0.74, 0.72, 0.69, 0.69, 0.69, 0.68, 0.67, 0.64, 0.60, 0.55, 0.49, 0.55, 0.57, 0.50,
  0.42, 0.52, 0.56, 0.50, 0.48, 0.48, 0.35, 0.16, 0.08, 0.04, 0.01, -0.01, 0.00, 0.04,
  0.15, 0.29, 0.50, 0.66, 0.72, 0.71, 0.69, 0.57, 0.57, 0.52, 0.49, 0.55, 0.60, 0.71,
  0.69, 0.72, 0.74, 0.67, 0.66, 0.63, 0.60, 0.65, 0.69, 0.63, 0.52, 0.44, 0.40, 0.38,
  0.35, 0.32, 0.36
];

// smoothed correction curve
const corrDays = [
  12.02, 12.15, 12.31, 12.40, 12.49, 12.58, 12.67, 12.75, 12.84, 12.91, 12.98, 13.08, 13.19, 13.34,
  13.42, 13.49, 13.55, 13.62, 13.69, 13.73, 13.76, 13.79, 13.81, 13.87, 13.93, 13.99, 14.05, 14.11,
  14.18, 14.25, 14.32, 14.40, 14.48, 14.54, 14.60, 14.70, 14.78, 14.87, 14.95, 15.05, 15.13, 15.25,
  15.34, 15.38, 15.43, 15.52, 15.61, 15.72, 15.84, 16.02, 16.10, 16.19, 16.28, 16.37, 16.54, 16.63,
  16.72, 16.85, 16.95, 17.04, 17.10, 17.16, 17.23, 17.30, 17.36, 17.43, 17.55, 17.65, 17.73, 17.80,
  17.86, 17.92, 18.04, 18.09, 18.13, 18.19, 18.25, 18.32, 18.39, 18.47, 18.54, 18.59, 18.63, 18.67,
  18.71, 18.75, 18.78, 18.83, 18.87, 18.91, 18.95, 18.99, 19.04, 19.10, 19.15, 19.19, 19.25, 19.31,
  19.40, 19.48, 19.60, 19.71, 19.82, 19.94, 20.06, 20.19, 20.33, 20.47, 20.52, 20.56, 20.62, 20.68,
  20.75, 20.82, 20.94, 21.05, 21.15, 21.22, 21.30, 21.39, 21.48, 21.55, 21.62, 21.72, 21.83, 21.93,
  22.04, 22.12, 22.20, 22.27, 22.40, 22.48, 22.55, 22.62, 22.69, 22.76, 22.83, 22.89, 22.98, 23.05,
  23.12, 23.20, 23.30, 23.38, 23.45, 23.51, 23.56, 23.65, 23.71, 23.76, 23.80, 23.86, 23.91, 24.00,
  24.12, 24.30, 24.42, 24.55, 24.65, 24.72, 24.79, 24.88, 24.97, 25.06, 25.18, 25.22, 25.27, 25.30,
  25.35, 25.39, 25.48, 25.59, 25.66, 25.71, 25.76, 25.80, 25.85, 25.89, 25.97, 26.02, 26.06, 27.24,
  27.29, 27.33, 27.37, 27.41, 27.46, 27.50, 27.58, 27.65, 27.72, 27.78, 27.84, 27.92, 28.00, 28.08,
  28.16, 28.30, 28.40, 28.50, 28.58, 28.68, 28.80, 28.92
];
const corrValues = [
  0.03, 0.01, 0.01, 0.04, 0.07, 0.10, 0.13, 0.17, 0.21, 0.19, 0.16, 0.17, 0.19, 0.21,
  0.24, 0.27, 0.29, 0.30, 0.29, 0.24, 0.16, 0.06, 0.01, -0.05, -0.04, -0.02, 0.00, 0.01,
  -0.01, -0.02, -0.07, -0.15, -0.21, -0.19, -0.16, -0.11, -0.08, -0.07, -0.07, -0.06, -0.06, -0.05,
  -0.05, -0.11, -0.15, -0.13, -0.10, -0.05, -0.02, -0.01, -0.01, -0.03, -0.06, -0.08, -0.08, -0.04,
  -0.01, 0.01, 0.01, -0.03, 0.02, 0.06, 0.08, 0.09, 0.05, 0.01, -0.01, -0.01, -0.01, 0.04,
  0.09, 0.11, 0.12, 0.09, 0.04, 0.00, -0.04, -0.08, -0.12, -0.16, -0.17, -0.12, -0.05, 0.03,
  0.09, 0.09, 0.07, -0.05, -0.15, -0.30, -0.43, -0.55, -0.63, -0.61, -0.52, -0.40, -0.29, -0.21,
  -0.18, -0.19, -0.22, -0.23, -0.21, -0.18, -0.11, -0.05, -0.04, -0.04, -0.09, -0.15, -0.27, -0.33,
  -0.36, -0.35, -0.33, -0.25, -0.18, -0.19, -0.22, -0.18, -0.15, -0.14, -0.16, -0.19, -0.22, -0.27,
  -0.33, -0.38, -0.43, -0.44, -0.45, -0.46, -0.53, -0.61, -0.68, -0.72, -0.69, -0.66, -0.61, -0.64,
  -0.68, -0.68, -0.66, -0.69, -0.71, -0.70, -0.68, -0.62, -0.58, -0.61, -0.64, -0.69, -0.72, -0.70,
  -0.68, -0.68, -0.68, -0.65, -0.60, -0.55, -0.49, -0.49, -0.50, -0.49, -0.47, -0.43, -0.32, -0.24,
  -0.13, -0.07, -0.02, -0.04, -0.08, -0.12, -0.22, -0.33, -0.50, -0.61, -0.69, -0.65, -0.58, -0.58,
  -0.53, -0.51, -0.54, -0.58, -0.65, -0.69, -0.70, -0.69, -0.72, -0.70, -0.66, -0.66, -0.63, -0.60,
  -0.65, -0.66, -0.62, -0.50, -0.42, -0.36, -0.34, -0.33
];

// ---- layout ----
const svg = d3.select("#chart");
const x = d3.scaleLinear().domain([12, 29]).range([112.3, 1076.7]);
const y = d3.scaleLinear().domain([-3, 3]).range([666, 22.7]);

const cloud = [].concat(cloudAug12, cloudAug13, cloudAug14, cloudAug15, cloudAug16, cloudAug17,
  cloudAug18, cloudAug19, cloudAug20, cloudAug21, cloudAug22, cloudAug23, cloudAug24, cloudAug25,
  cloudAug27, cloudAug28)
  .flatMap(([t, ...vals]) => vals.map(v => [t, v / 100]));

const plot = svg.append("g");

// accepted samples
const dot = 2.4;
plot.append("g").attr("fill", "#ff1414")
  .selectAll("rect").data(cloud.concat(strayRed)).join("rect")
  .attr("x", d => x(d[0]) - dot / 2).attr("y", d => y(d[1]) - dot / 2)
  .attr("width", dot).attr("height", dot);

// flagged samples
plot.append("g").attr("fill", "#555")
  .selectAll("rect").data(flagged).join("rect")
  .attr("x", d => x(d[0]) - 0.9).attr("y", d => y(d[1]) - 1.4)
  .attr("width", 1.8).attr("height", 2.8);

// correction curve
const corr = corrDays.map((t, i) => [t, corrValues[i]]);
plot.append("path").datum(corr)
  .attr("fill", "none").attr("stroke", "#2a35f0").attr("stroke-width", 2)
  .attr("d", d3.line().x(d => x(d[0])).y(d => y(d[1])).curve(d3.curveMonotoneX));

// running mean
const mean = meanDays.map((t, i) => [t, meanValues[i]]);
plot.append("path").datum(mean)
  .attr("fill", "none").attr("stroke", "#000").attr("stroke-width", 1.9)
  .attr("stroke-linejoin", "round")
  .attr("d", d3.line().x(d => x(d[0])).y(d => y(d[1])));

// ---- axes ----
const axisStyle = g => {
  g.select(".domain").attr("stroke", "#222").attr("stroke-width", 1.6);
  g.selectAll(".tick line").attr("stroke", "#222").attr("stroke-width", 1.6);
};

svg.append("g").attr("transform", `translate(0,${y(3)})`)
  .call(d3.axisTop(x).tickValues(dayBounds).tickSize(9).tickSizeOuter(0).tickFormat(""))
  .call(axisStyle);

svg.append("g").attr("transform", `translate(0,${y(-3)})`)
  .call(d3.axisBottom(x).tickValues(dayBounds).tickSize(9).tickSizeOuter(0).tickFormat(""))
  .call(axisStyle);

// day labels centred on each day
svg.append("g").attr("transform", `translate(0,${y(-3)})`)
  .call(d3.axisBottom(x).tickValues(dayLabels.map(d => d + 0.5)).tickSize(0).tickPadding(17)
    .tickFormat(d => String(Math.floor(d))))
  .call(g => g.select(".domain").remove())
  .call(g => g.selectAll("text").attr("font-size", 23).attr("fill", "#222")
    .attr("font-family", "'Liberation Sans', Arial, sans-serif"));

const minorY = d3.range(-9, 10).map(k => k / 3).filter(v => Math.abs(v - Math.round(v)) > 0.01);
svg.append("g").attr("transform", `translate(${x(12)},0)`)
  .call(d3.axisLeft(y).tickValues(minorY).tickSize(6).tickSizeOuter(0).tickFormat(""))
  .call(axisStyle);

svg.append("g").attr("transform", `translate(${x(12)},0)`)
  .call(d3.axisLeft(y).tickValues(yMajor).tickSize(9).tickSizeOuter(0).tickPadding(13)
    .tickFormat(d => d < 0 ? "\u2212" + Math.abs(d) : String(d)))
  .call(axisStyle)
  .call(g => g.selectAll("text").attr("font-size", 23).attr("fill", "#222")
    .attr("font-family", "'Liberation Sans', Arial, sans-serif"));

// axis titles
svg.append("text")
  .attr("x", (x(12) + 1076) / 2).attr("y", 740)
  .attr("text-anchor", "middle").attr("font-size", 31).attr("fill", "#222")
  .text("Aug");

svg.append("text")
  .attr("transform", `translate(39,${y(0) - 2}) rotate(-90)`)
  .attr("text-anchor", "middle").attr("font-size", 24).attr("fill", "#222")
  .style("white-space", "pre")
  .text("GPS\u2212gyro  (\u00ba)");
</script>
</body>
</html>
